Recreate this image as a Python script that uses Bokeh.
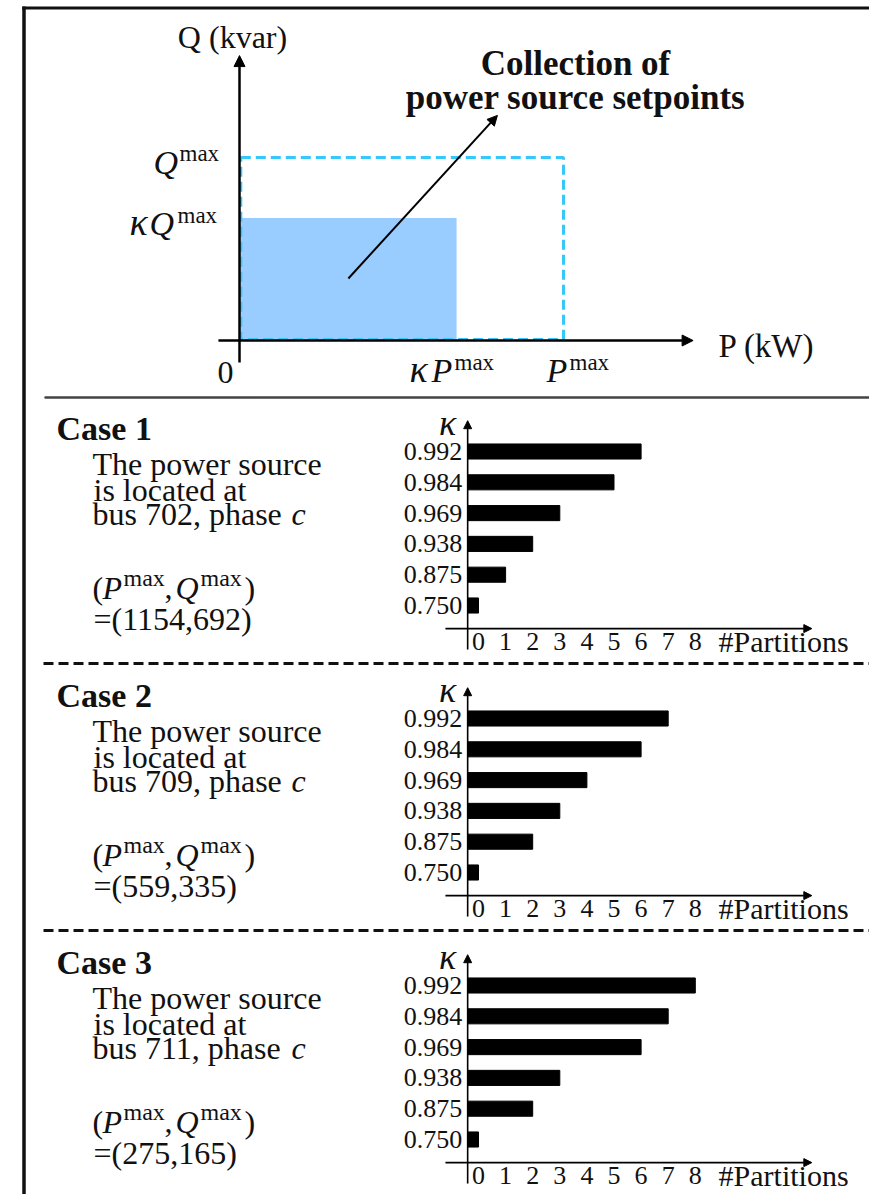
from bokeh.plotting import figure
from bokeh.models import Range1d, Arrow, NormalHead
from bokeh.core.properties import value
from bokeh.embed import file_html
from bokeh.resources import INLINE

# ---------------- data ----------------
kappa_labels = ["0.750", "0.875", "0.938", "0.969", "0.984", "0.992"]
partitions_case1 = [0, 1, 2, 3, 5, 6]
partitions_case2 = [0, 2, 3, 4, 6, 7]
partitions_case3 = [0, 2, 3, 6, 7, 8]
partition_ticks = [0, 1, 2, 3, 4, 5, 6, 7, 8]
case_names = ["Case 1", "Case 2", "Case 3"]
case_buses = ["702", "709", "711"]
case_pmax = [1154, 559, 275]
case_qmax = [692, 335, 165]
kappa_demo = 0.67          # kappa used in the schematic
pq_max = 1.0               # normalised P^max, Q^max in the schematic

FONT = "Liberation Serif"
W, H = 869, 1194

p = figure(width=W, height=H, x_range=Range1d(0, W), y_range=Range1d(H, 0),
           output_backend="svg", toolbar_location=None, min_border=0,
           x_axis_type=None, y_axis_type=None)
p.grid.visible = False
p.outline_line_color = None
p.background_fill_color = "white"
p.border_fill_color = None

# schematic ranges (P, Q normalised by max)
px0, pxs = 239.0, 324.0
qy0, qys = 340.0, 183.0
p.extra_x_ranges["P"] = Range1d((0 - px0) / pxs, (W - px0) / pxs)
p.extra_y_ranges["Q"] = Range1d((qy0 - H) / qys, (qy0 - 0) / qys)

# bar chart ranges
bx0, bxs = 478.0, 27.1
p.extra_x_ranges["bars"] = Range1d((0 - bx0) / bxs, (W - bx0) / bxs)
case_off = [0, 267, 534]
by0, bys = 605.0, 30.8
for c, off in enumerate(case_off):
    p.extra_y_ranges[f"case{c}"] = Range1d((by0 + off - H) / bys, (by0 + off - 0) / bys)


def txt(x, y, s, size, style="normal", align="left", baseline="alphabetic",
        xr="default", yr="default", color="#111111"):
    xs = x if isinstance(x, list) else [x]
    ys = y if isinstance(y, list) else [y] * len(xs)
    if baseline == "alphabetic":
        ys = [yy - 0.3 * size for yy in ys]
    ss = s if isinstance(s, list) else [s] * len(xs)
    p.text(x=xs, y=ys, text=ss, text_font=value(FONT), text_font_size=f"{size}px",
           text_font_style=style, text_align=align, text_baseline=baseline,
           text_color=color, x_range_name=xr, y_range_name=yr)


def arrow(x0, y0, x1, y1, xr, yr, lw, head):
    p.add_layout(Arrow(x_start=x0, y_start=y0, x_end=x1, y_end=y1,
                       x_range_name=xr, y_range_name=yr, line_width=lw, line_color="black",
                       end=NormalHead(size=head, fill_color="black", line_color="black", line_width=1)))


# ---------------- frame & separators ----------------
p.quad(left=[21.75, 21.75], right=[25.25, W + 5], top=[6, 6], bottom=[H + 5, 9],
       fill_color="#111111", line_color=None)
p.line(x=[45, 868], y=[397, 397], line_width=2.5, line_color="#444444", line_cap="round")
for yy in [663, 930]:
    p.line(x=[43, W], y=[yy, yy], line_width=3, line_color="#111111", line_dash="10 5")

# ---------------- schematic ----------------
p.quad(left=[0], right=[kappa_demo * pq_max], bottom=[0], top=[kappa_demo * pq_max],
       x_range_name="P", y_range_name="Q", fill_color="#99ccff", line_color=None)
arrow(-0.065, 0, 1.40, 0, "P", "Q", 2.5, 11)
arrow(0, -0.12, 0, 1.557, "P", "Q", 2.5, 11)
p.quad(left=[0.004], right=[pq_max], bottom=[0.006], top=[pq_max],
       x_range_name="P", y_range_name="Q", fill_color=None,
       line_color="#36c8fa", line_width=3, line_dash="10 5")
arrow(0.336, 0.339, 0.796, 1.23, "P", "Q", 2, 10)

txt(232, 46, "Q (kvar)", 32, align="center")
txt(718, 355, "P (kW)", 33)
txt(575, 73, "Collection of", 35, style="bold", align="center")
txt(575, 107, "power source setpoints", 35, style="bold", align="center")
txt(225, 382, "0", 32, align="center")
# Q^max
txt(153, 172, "Q", 34, style="italic")
txt(179, 160, "max", 23)
# kappa Q^max
txt(129, 233, "κ", 38, style="italic")
txt(149, 233, "Q", 34, style="italic")
txt(177, 222, "max", 23)
# kappa P^max
txt(409, 380, "κ", 38, style="italic")
txt(431, 380, "P", 34, style="italic")
txt(454, 369, "max", 23)
# P^max
txt(546, 380, "P", 34, style="italic")
txt(569, 369, "max", 23)

# ---------------- cases ----------------
case_values = [partitions_case1, partitions_case2, partitions_case3]
idx = list(range(len(kappa_labels)))
axis_x = -0.4
for c, off in enumerate(case_off):
    yr = f"case{c}"
    # left text block
    txt(56, 438 + off, case_names[c], 34, style="bold")
    txt(92, 473 + off, "The power source", 32)
    txt(93, 499 + off, "is located at", 32)
    txt(92, 523 + off, f"bus {case_buses[c]}, phase ", 32)
    txt(291, 523 + off, "c", 32, style="italic")
    txt(92, 597 + off, "(", 32)
    txt(102, 597 + off, "P", 32, style="italic")
    txt(123, 585 + off, "max", 24)
    txt(164, 597 + off, ",", 32)
    txt(175, 597 + off, "Q", 32, style="italic")
    txt(200, 585 + off, "max", 24)
    txt(244, 597 + off, ")", 32)
    txt(93, 628 + off, f"=({case_pmax[c]},{case_qmax[c]})", 32)

    # bar chart
    p.hbar(y=idx, left=axis_x, right=case_values[c], height=0.49, fill_color="black",
           line_color="black", x_range_name="bars", y_range_name=yr)
    arrow(axis_x, -1.43, axis_x, 6.0, "bars", yr, 1.6, 8)
    arrow(-1.22, -0.75, 12.3, -0.75, "bars", yr, 1.6, 8)
    txt([-0.6] * len(idx), idx, kappa_labels, 26, align="right", baseline="middle",
        xr="bars", yr=yr)
    txt(partition_ticks, -1.17, [str(t) for t in partition_ticks], 26, align="center",
        baseline="middle", xr="bars", yr=yr)
    txt(8.86, -1.17, "#Partitions", 30, baseline="middle", xr="bars", yr=yr)
    txt(-1.14, 5.93, "κ", 36, style="italic", align="center", baseline="middle",
        xr="bars", yr=yr)

open("out.html", "w").write(file_html(p, INLINE))
